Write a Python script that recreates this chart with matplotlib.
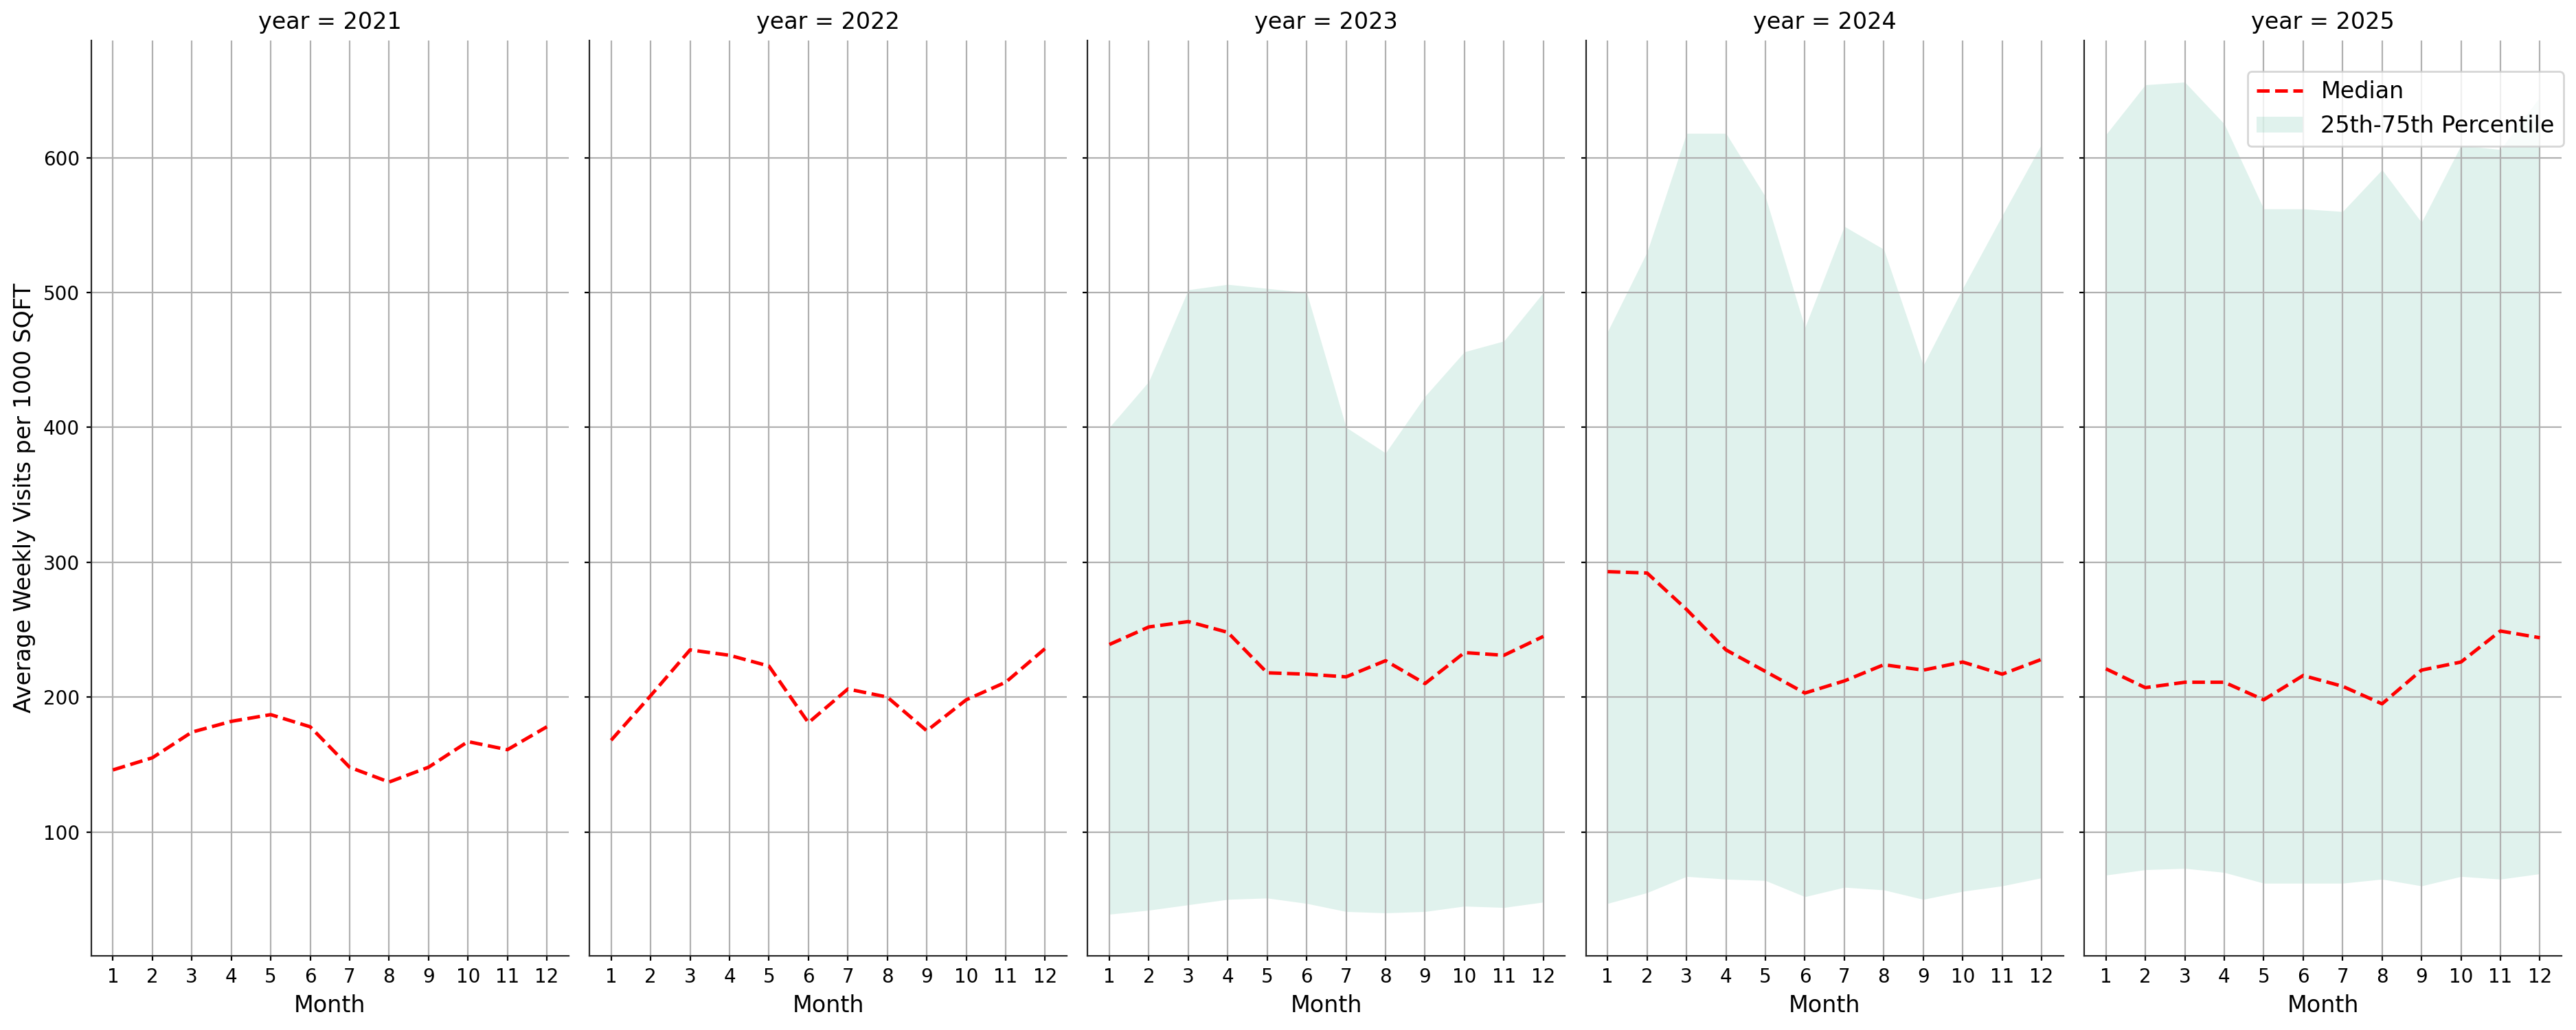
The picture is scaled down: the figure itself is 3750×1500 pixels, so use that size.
import matplotlib
matplotlib.use("Agg")
import matplotlib.pyplot as plt
import numpy as np

months = list(range(1, 13))
years = [2021, 2022, 2023, 2024, 2025]

median_2021 = [146, 155, 174, 182, 187, 178, 148, 137, 148, 167, 161, 178]
median_2022 = [168, 201, 235, 231, 223, 181, 206, 200, 175, 198, 211, 236]
median_2023 = [239, 252, 256, 248, 218, 217, 215, 227, 210, 233, 231, 245]
median_2024 = [293, 292, 265, 235, 219, 203, 212, 224, 220, 226, 217, 228]
median_2025 = [221, 207, 211, 211, 198, 216, 208, 195, 220, 226, 249, 244]

p25_2023 = [39, 42, 46, 50, 51, 47, 41, 40, 41, 45, 44, 48]
p75_2023 = [400, 434, 502, 506, 503, 500, 400, 381, 423, 456, 464, 500]
p25_2024 = [47, 55, 67, 65, 64, 52, 59, 57, 50, 56, 60, 66]
p75_2024 = [471, 530, 618, 618, 571, 474, 549, 532, 446, 503, 557, 610]
p25_2025 = [68, 72, 73, 70, 62, 62, 62, 65, 60, 67, 65, 69]
p75_2025 = [617, 654, 656, 625, 562, 562, 560, 591, 552, 609, 606, 645]

medians = [median_2021, median_2022, median_2023, median_2024, median_2025]
lows = [None, None, p25_2023, p25_2024, p25_2025]
highs = [None, None, p75_2023, p75_2024, p75_2025]

plt.rcParams["font.family"] = "DejaVu Sans"
plt.rcParams["axes.edgecolor"] = "#262626"

fig, axes = plt.subplots(1, 5, sharey=True, figsize=(18.75, 7.5), dpi=200)
fig.subplots_adjust(left=0.0354, right=0.9944, bottom=0.072, top=0.9607, wspace=0.0437)

for ax, yr, med, lo, hi in zip(axes, years, medians, lows, highs):
    if lo is not None:
        ax.fill_between(months, lo, hi, color="#66c2a5", alpha=0.2, linewidth=0,
                        label="25th-75th Percentile")
    ax.plot(months, med, color="red", linestyle="--", linewidth=1.8, label="Median")
    ax.set_title(f"year = {yr}", fontsize=12)
    ax.set_xlabel("Month", fontsize=12)
    ax.set_xticks(months)
    ax.tick_params(labelsize=10, length=2.5, pad=3.5)
    ax.grid(True, color="#b0b0b0", linewidth=0.8)
    ax.spines["top"].set_visible(False)
    ax.spines["right"].set_visible(False)

axes[0].set_ylabel("Average Weekly Visits per 1000 SQFT", fontsize=12)
axes[0].set_yticks([100, 200, 300, 400, 500, 600])

h, l = axes[-1].get_legend_handles_labels()
order = [l.index("Median"), l.index("25th-75th Percentile")]
fig.legend([h[i] for i in order], [l[i] for i in order], fontsize=12,
           loc="upper right", bbox_to_anchor=(0.9952, 0.9307), borderaxespad=0)

fig.savefig("out.png", dpi=200)
